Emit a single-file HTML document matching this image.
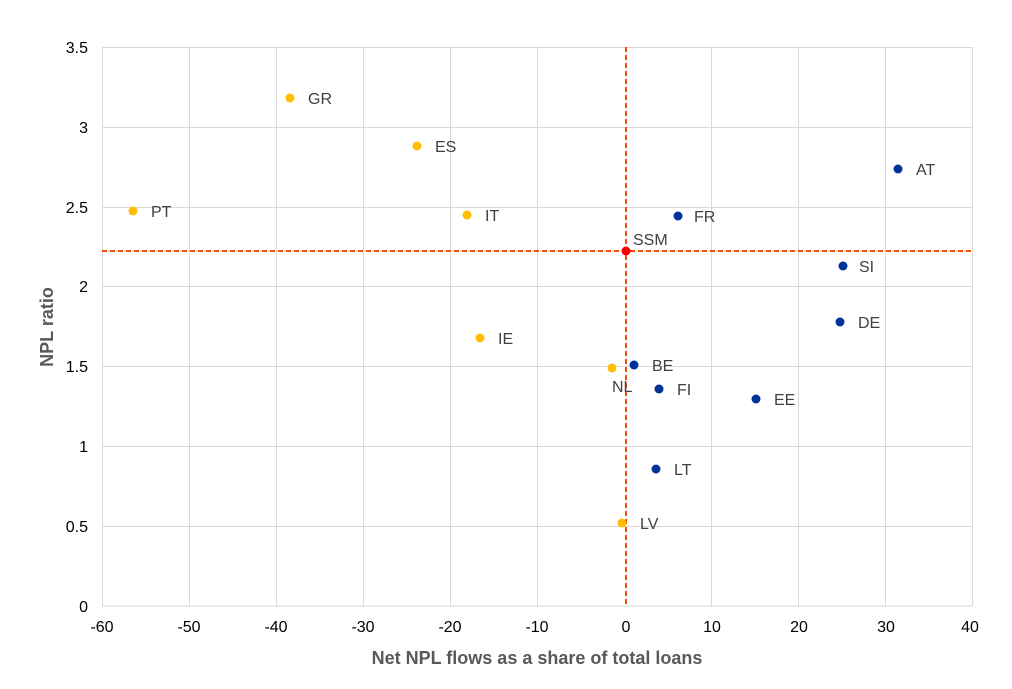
<!DOCTYPE html><html><head><style>body{margin:0;background:#fff}</style></head><body>
<svg width="1012" height="684" xmlns="http://www.w3.org/2000/svg" font-family="Liberation Sans, sans-serif">
<g stroke="#d9d9d9" stroke-width="1">
<line x1="102.5" y1="47.3" x2="102.5" y2="606"/><line x1="189.5" y1="47.3" x2="189.5" y2="606"/><line x1="276.5" y1="47.3" x2="276.5" y2="606"/><line x1="363.5" y1="47.3" x2="363.5" y2="606"/><line x1="450.5" y1="47.3" x2="450.5" y2="606"/><line x1="537.5" y1="47.3" x2="537.5" y2="606"/><line x1="711.5" y1="47.3" x2="711.5" y2="606"/><line x1="798.5" y1="47.3" x2="798.5" y2="606"/><line x1="885.5" y1="47.3" x2="885.5" y2="606"/><line x1="972.5" y1="47.3" x2="972.5" y2="606"/>
<line x1="102.5" y1="47.5" x2="972.5" y2="47.5"/><line x1="102.5" y1="127.5" x2="972.5" y2="127.5"/><line x1="102.5" y1="207.5" x2="972.5" y2="207.5"/><line x1="102.5" y1="286.5" x2="972.5" y2="286.5"/><line x1="102.5" y1="366.5" x2="972.5" y2="366.5"/><line x1="102.5" y1="446.5" x2="972.5" y2="446.5"/><line x1="102.5" y1="526.5" x2="972.5" y2="526.5"/><line x1="102.5" y1="606" x2="972.5" y2="606"/>
</g>
<g font-size="16" fill="#000" text-anchor="end">
<text x="88" y="53">3.5</text><text x="88" y="133">3</text><text x="88" y="213">2.5</text><text x="88" y="292">2</text><text x="88" y="372">1.5</text><text x="88" y="452">1</text><text x="88" y="532">0.5</text><text x="88" y="612">0</text></g>
<g font-size="16" fill="#000" text-anchor="middle">
<text x="102" y="632">-60</text><text x="189" y="632">-50</text><text x="276" y="632">-40</text><text x="363" y="632">-30</text><text x="450" y="632">-20</text><text x="537" y="632">-10</text><text x="626" y="632">0</text><text x="712" y="632">10</text><text x="799" y="632">20</text><text x="886" y="632">30</text><text x="970" y="632">40</text></g>
<text x="537" y="664" font-size="18" font-weight="bold" fill="#595959" text-anchor="middle">Net NPL flows as a share of total loans</text>
<text transform="translate(53,327) rotate(-90)" font-size="18" font-weight="bold" fill="#595959" text-anchor="middle">NPL ratio</text>
<g stroke="#ff4b00" stroke-width="2" stroke-dasharray="5,3"><line x1="626" y1="47" x2="626" y2="606"/><line x1="102" y1="251" x2="973" y2="251"/></g>
<g fill="#ffbf00"><circle cx="290" cy="98" r="4.5"/><circle cx="417" cy="146" r="4.5"/><circle cx="133" cy="211" r="4.5"/><circle cx="467" cy="215" r="4.5"/><circle cx="480" cy="338" r="4.5"/><circle cx="612" cy="368" r="4.5"/><circle cx="622" cy="523" r="4.5"/></g>
<g fill="#003299"><circle cx="898" cy="169" r="4.5"/><circle cx="678" cy="216" r="4.5"/><circle cx="843" cy="266" r="4.5"/><circle cx="840" cy="322" r="4.5"/><circle cx="634" cy="365" r="4.5"/><circle cx="659" cy="389" r="4.5"/><circle cx="756" cy="399" r="4.5"/><circle cx="656" cy="469" r="4.5"/></g>
<circle cx="626" cy="251" r="4.5" fill="#ff0000"/>
<g font-size="16" fill="#404040">
<text x="308" y="104">GR</text><text x="435" y="152">ES</text><text x="151" y="217">PT</text><text x="485" y="221">IT</text><text x="498" y="344">IE</text><text x="612" y="392">NL</text><text x="640" y="529">LV</text>
<text x="916" y="175">AT</text><text x="694" y="222">FR</text><text x="859" y="272">SI</text><text x="858" y="328">DE</text><text x="652" y="371">BE</text><text x="677" y="395">FI</text><text x="774" y="405">EE</text><text x="674" y="475">LT</text><text x="633" y="245">SSM</text></g>
</svg></body></html>
